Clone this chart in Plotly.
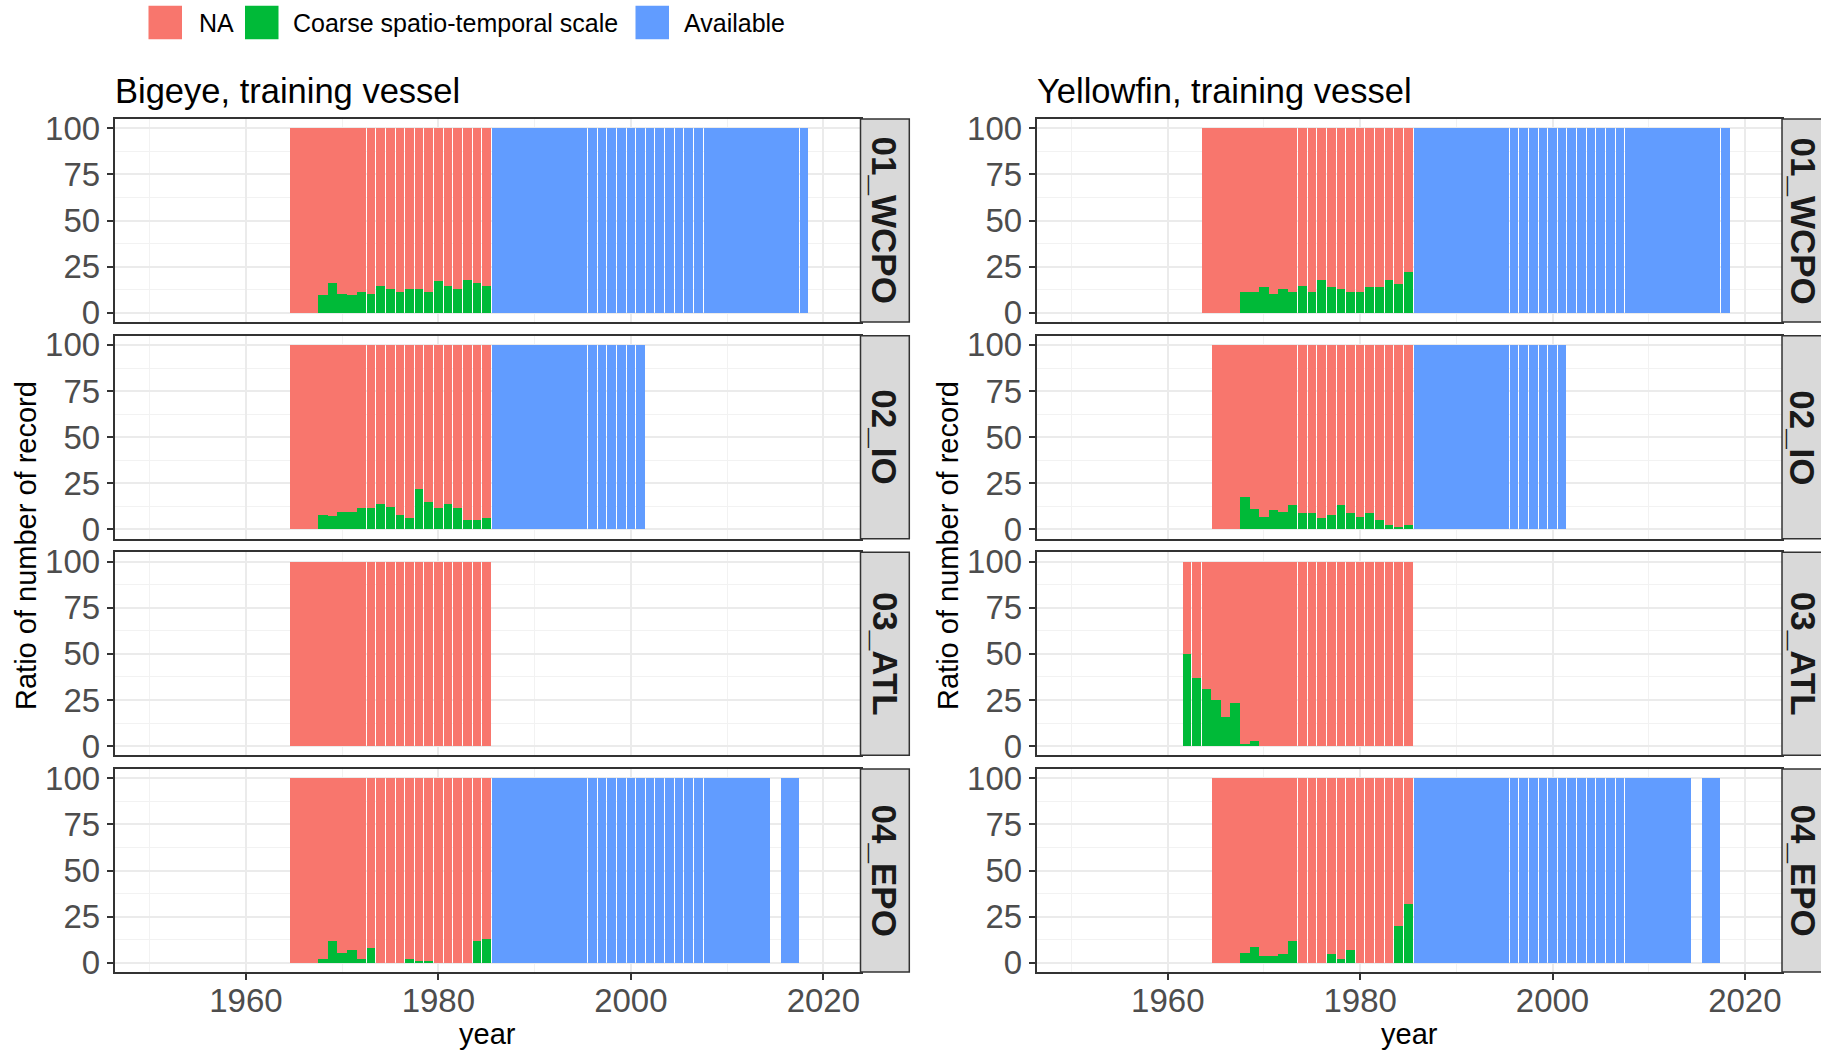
import plotly.graph_objects as go

# ------------------------------------------------------------------
# Share of records (%) per year and region, training vessels
# ------------------------------------------------------------------
REGIONS = ["01_WCPO", "02_IO", "03_ATL", "04_EPO"]
SPECIES_TITLES = ["Bigeye, training vessel", "Yellowfin, training vessel"]
CATEGORIES = ["NA", "Coarse spatio-temporal scale", "Available"]
COLORS = {"NA": "#F8766D", "Coarse spatio-temporal scale": "#00BA38", "Available": "#619CFF"}
X_TICKS = [1960, 1980, 2000, 2020]
Y_TICKS = [0, 25, 50, 75, 100]

# Bigeye: early years carry NA / coarse split, later years are fully available
BE_WCPO_EARLY_YEARS = list(range(1965, 1986))
BE_WCPO_COARSE = [0, 0, 0, 9.4, 16.4, 10.4, 9.4, 11.0, 10.3, 14.6, 12.8, 11.2, 12.8,
                  12.8, 11.2, 17.1, 14.6, 12.8, 18.0, 16.4, 14.6]
BE_WCPO_AVAIL_YEARS = list(range(1986, 2019))

BE_IO_EARLY_YEARS = list(range(1965, 1986))
BE_IO_COARSE = [0, 0, 0, 8.0, 7.1, 9.6, 9.6, 11.4, 11.4, 13.9, 12.3, 8.0, 6.1,
                21.9, 14.8, 11.4, 13.9, 11.4, 5.2, 5.2, 6.1]
BE_IO_AVAIL_YEARS = list(range(1986, 2002))

BE_ATL_EARLY_YEARS = list(range(1965, 1986))
BE_ATL_COARSE = [0, 0, 0, 0, 0, 0, 0, 0, 0, 0, 0, 0, 0, 0, 0, 0, 0, 0, 0, 0, 0]
BE_ATL_AVAIL_YEARS = []

BE_EPO_EARLY_YEARS = list(range(1965, 1986))
BE_EPO_COARSE = [0, 0, 0, 1.8, 12.0, 5.2, 7.0, 1.8, 7.9, 0, 0, 0, 1.8,
                 0.9, 0.9, 0, 0, 0, 0, 12.0, 13.1]
BE_EPO_AVAIL_YEARS = list(range(1986, 2015)) + [2016, 2017]

# Yellowfin
YF_WCPO_EARLY_YEARS = list(range(1964, 1986))
YF_WCPO_COARSE = [0, 0, 0, 0, 11.0, 11.0, 13.7, 10.3, 12.8, 11.0, 14.6, 11.0, 18.0,
                  13.7, 12.8, 11.0, 11.0, 13.7, 13.7, 18.0, 15.5, 22.3]
YF_WCPO_AVAIL_YEARS = list(range(1986, 2019))

YF_IO_EARLY_YEARS = list(range(1965, 1986))
YF_IO_COARSE = [0, 0, 0, 17.4, 11.2, 6.9, 10.5, 9.6, 13.0, 8.7, 8.7, 6.0, 7.8,
                13.0, 8.7, 6.9, 8.7, 5.1, 2.5, 1.6, 2.5]
YF_IO_AVAIL_YEARS = list(range(1986, 2002))

YF_ATL_EARLY_YEARS = list(range(1962, 1986))
YF_ATL_COARSE = [50.0, 37.0, 31.1, 25.0, 15.6, 23.3, 0.9, 2.5, 0, 0, 0, 0, 0, 0,
                 0, 0, 0, 0, 0, 0, 0, 0, 0, 0]
YF_ATL_AVAIL_YEARS = []

YF_EPO_EARLY_YEARS = list(range(1965, 1986))
YF_EPO_COARSE = [0, 0, 0, 5.2, 8.8, 3.6, 3.6, 4.5, 12.0, 0, 0, 0, 4.5,
                 1.8, 7.0, 0, 0, 0, 0, 20.1, 32.1]
YF_EPO_AVAIL_YEARS = list(range(1986, 2015)) + [2016, 2017]

# Year spans that were reported as continuous periods (bars drawn without gaps)
CONTINUOUS_SPANS = [(1964, 1972), (1986, 1995), (2008, 2017)]

PANEL_DATA = [
    [(BE_WCPO_EARLY_YEARS, BE_WCPO_COARSE, BE_WCPO_AVAIL_YEARS),
     (BE_IO_EARLY_YEARS, BE_IO_COARSE, BE_IO_AVAIL_YEARS),
     (BE_ATL_EARLY_YEARS, BE_ATL_COARSE, BE_ATL_AVAIL_YEARS),
     (BE_EPO_EARLY_YEARS, BE_EPO_COARSE, BE_EPO_AVAIL_YEARS)],
    [(YF_WCPO_EARLY_YEARS, YF_WCPO_COARSE, YF_WCPO_AVAIL_YEARS),
     (YF_IO_EARLY_YEARS, YF_IO_COARSE, YF_IO_AVAIL_YEARS),
     (YF_ATL_EARLY_YEARS, YF_ATL_COARSE, YF_ATL_AVAIL_YEARS),
     (YF_EPO_EARLY_YEARS, YF_EPO_COARSE, YF_EPO_AVAIL_YEARS)],
]

# ------------------------------------------------------------------
# Page layout (pixels)
# ------------------------------------------------------------------
W, H = 1821, 1051
FONT = "Liberation Sans, Arial, sans-serif"
COL_X = [(114.5, 860.5), (1036.5, 1782.0)]
ROW_TOP = [119.0, 335.7, 552.3, 769.0]
PANEL_H = 203.0
STRIP_W = 48.8
X_RANGE = [1946.35, 2023.86]
Y_RANGE = [-5, 105]
BAR_W = 0.9
TICK_SIZE = 33


def px(x):
    return x / W


def py(y):
    return 1 - y / H


def span_of(year):
    for a, b in CONTINUOUS_SPANS:
        if a <= year <= b:
            return (a, b)
    return None


def bar_geometry(years, present):
    """Offsets/widths: gapped bars normally, touching bars inside continuous spans."""
    offsets, widths = [], []
    half = BAR_W / 2
    for yr in years:
        left, right = yr - half, yr + half
        sp = span_of(yr)
        if sp:
            if (yr - 1) in present and yr - 1 >= sp[0]:
                left = yr - 0.5
            if (yr + 1) in present and yr + 1 <= sp[1]:
                right = yr + 0.5
        offsets.append(left - yr)
        widths.append(right - left)
    return offsets, widths


fig = go.Figure()
annotations = []
shapes = []

for c in range(2):
    x0, x1 = COL_X[c]
    for r in range(4):
        k = c * 4 + r + 1
        xa = "x" if k == 1 else f"x{k}"
        ya = "y" if k == 1 else f"y{k}"
        early_years, coarse, avail_years = PANEL_DATA[c][r]
        na_share = [100 - v for v in coarse]
        avail_share = [100] * len(avail_years)
        present = set(early_years) | set(avail_years)

        series = [
            ("Coarse spatio-temporal scale", early_years, coarse),
            ("NA", early_years, na_share),
            ("Available", avail_years, avail_share),
        ]
        for name, xs, ys in series:
            if not xs:
                continue
            offs, wids = bar_geometry(xs, present)
            fig.add_trace(go.Bar(
                x=xs, y=ys, name=name, offset=offs, width=wids,
                marker=dict(color=COLORS[name], line=dict(width=0)),
                xaxis=xa, yaxis=ya, showlegend=False,
                hovertemplate="%{x}: %{y:.1f}%<extra>" + name + "</extra>",
            ))

        top = ROW_TOP[r]
        bottom = top + PANEL_H
        bottom_row = r == 3
        fig.layout[("xaxis" if k == 1 else f"xaxis{k}")] = dict(
            domain=[px(x0), px(x1)], anchor=ya, range=X_RANGE, automargin=False,
            tickvals=X_TICKS, showticklabels=bottom_row,
            ticks="outside" if bottom_row else "", ticklen=6, tickwidth=1.5,
            tickcolor="#333333", ticklabelstandoff=-7,
            tickfont=dict(family=FONT, size=TICK_SIZE, color="#4D4D4D"),
            showgrid=True, gridcolor="#EBEBEB", gridwidth=1.6,
            minor=dict(tickvals=[1950, 1970, 1990, 2010], showgrid=True,
                       gridcolor="#F2F2F2", gridwidth=1, ticks=""),
            showline=True, mirror=True, linecolor="#333333", linewidth=1.5,
            zeroline=False, fixedrange=True,
        )
        fig.layout[("yaxis" if k == 1 else f"yaxis{k}")] = dict(
            domain=[py(bottom), py(top)], anchor=xa, range=Y_RANGE, automargin=False,
            tickvals=Y_TICKS, ticks="outside", ticklen=6, tickwidth=1.5,
            tickcolor="#333333", ticklabelstandoff=0,
            tickfont=dict(family=FONT, size=TICK_SIZE, color="#4D4D4D"),
            showgrid=True, gridcolor="#EBEBEB", gridwidth=1.6,
            minor=dict(tickvals=[12.5, 37.5, 62.5, 87.5], showgrid=True,
                       gridcolor="#F2F2F2", gridwidth=1, ticks=""),
            showline=True, mirror=True, linecolor="#333333", linewidth=1.5,
            zeroline=False, fixedrange=True,
        )

        # facet strip on the right side of each panel
        shapes.append(dict(
            type="rect", xref="paper", yref="paper",
            x0=px(x1), x1=px(x1 + STRIP_W), y0=py(bottom), y1=py(top),
            fillcolor="#D9D9D9", line=dict(color="#333333", width=1.5), layer="above",
        ))
        annotations.append(dict(
            text=REGIONS[r], xref="paper", yref="paper",
            x=px(min(x1 + STRIP_W / 2, W - 18)), y=py((top + bottom) / 2),
            xanchor="center", yanchor="middle", textangle=90, showarrow=False,
            font=dict(family=FONT, size=35, color="#1A1A1A", weight="bold"),
        ))

    # column title, axis titles
    annotations.append(dict(
        text=SPECIES_TITLES[c], xref="paper", yref="paper",
        x=px(x0 - 1.5), y=py(90.5), xanchor="left", yanchor="middle", showarrow=False,
        font=dict(family=FONT, size=34.5, color="#000000"),
    ))
    annotations.append(dict(
        text="year", xref="paper", yref="paper",
        x=px((x0 + x1) / 2), y=py(1033.5), xanchor="center", yanchor="middle",
        showarrow=False, font=dict(family=FONT, size=29, color="#000000"),
    ))
    annotations.append(dict(
        text="Ratio of number of record", xref="paper", yref="paper",
        x=px(x0 - 89), y=py((ROW_TOP[0] + ROW_TOP[3] + PANEL_H) / 2),
        xanchor="center", yanchor="middle", textangle=-90, showarrow=False,
        font=dict(family=FONT, size=29, color="#000000"),
    ))

# legend across the top: square keys with labels
LEGEND_KEYS = [(148.5, 196.5), (245.0, 291.0), (635.5, 681.5)]
KEY = 33.5
for name, (kx, tx) in zip(CATEGORIES, LEGEND_KEYS):
    shapes.append(dict(
        type="rect", xref="paper", yref="paper",
        x0=px(kx), x1=px(kx + KEY), y0=py(5.7 + KEY), y1=py(5.7),
        fillcolor=COLORS[name], line=dict(width=0),
    ))
    annotations.append(dict(
        text=name, xref="paper", yref="paper", x=px(tx), y=py(22.5),
        xanchor="left", yanchor="middle", showarrow=False,
        font=dict(family=FONT, size=25, color="#000000"),
    ))

fig.update_layout(
    width=W, height=H, margin=dict(l=0, r=0, t=0, b=0, pad=0, autoexpand=False),
    paper_bgcolor="white", plot_bgcolor="white",
    barmode="stack", showlegend=False,
    annotations=annotations, shapes=shapes,
    font=dict(family=FONT),
)

fig.write_html("out.html", config={"displayModeBar": False})
